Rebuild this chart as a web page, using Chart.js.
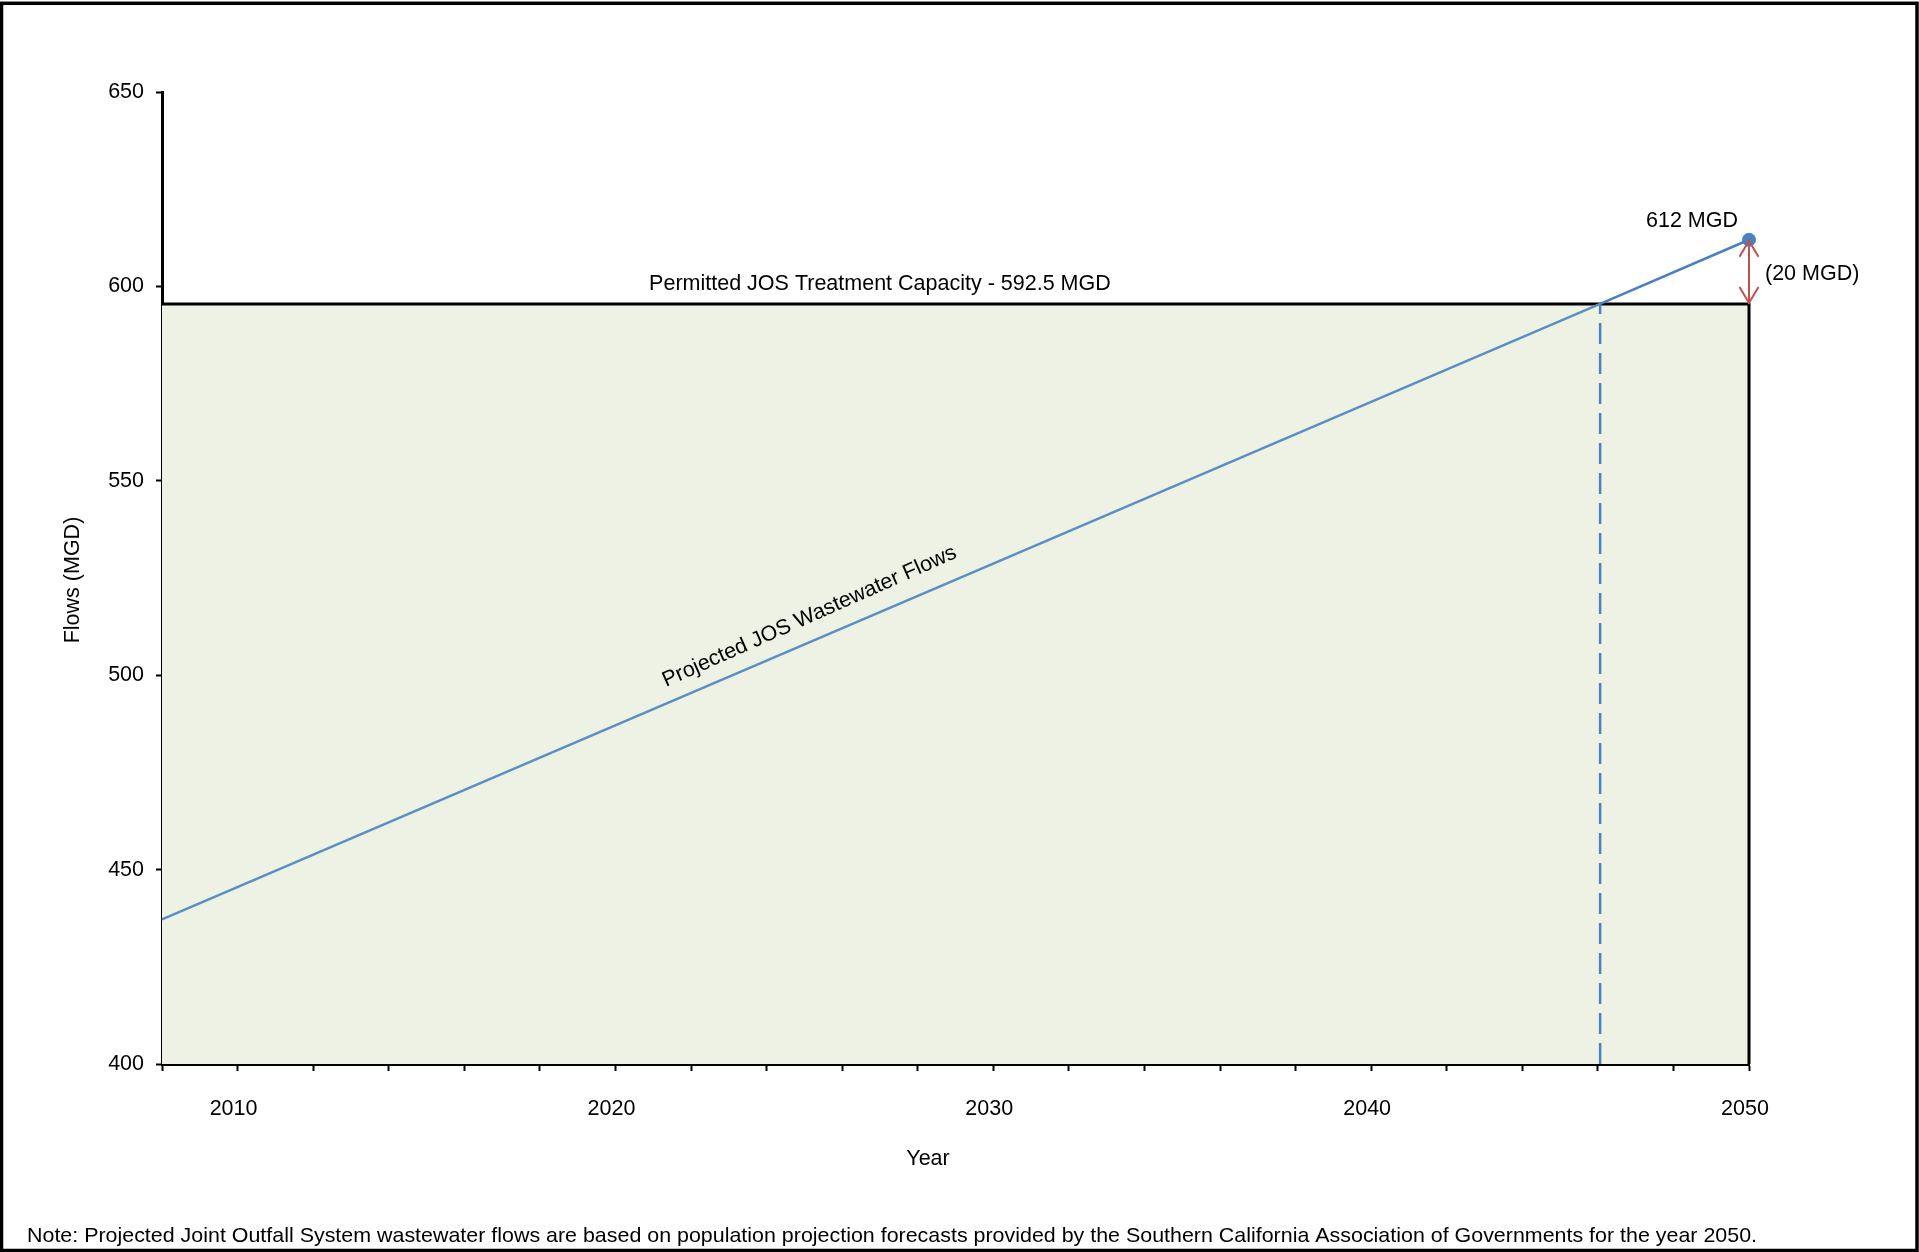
<!DOCTYPE html>
<html>
<head>
<meta charset="utf-8">
<script src="https://cdn.jsdelivr.net/npm/chart.js@4.4.0/dist/chart.umd.min.js"></script>
<style>
	html, body { margin: 0; padding: 0; background: #ffffff; }
	.chart-wrapper { width: 1919px; height: 1252px; }
</style>
</head>
<body>
<div class="chart-wrapper">
	<canvas id="flowsChart" width="1919" height="1252"></canvas>
</div>
<script>
// Projected wastewater flows (MGD)
var flowYears = [ 2008, 2046.06, 2050 ];
var flowValues = [ 437.2, 595.5, 612 ];

// Permitted capacity block (top edge + right edge)
var capacityYears = [ 2008, 2050, 2050 ];
var capacityValues = [ 595.5, 595.5, 400 ];

// year where flows pass the capacity
var crossingYears = [ 2046.06, 2046.06 ];
var crossingValues = [ 400, 595.5 ];

// gap between 2050 flow and capacity
var gapYears = [ 2050, 2050 ];
var gapValues = [ 612, 595.5 ];

var yearLabels = [ 2010, 2020, 2030, 2040, 2050 ];

var capacityText = "Permitted JOS Treatment Capacity - 592.5 MGD";
var lineText = "Projected JOS Wastewater Flows";
var peakText = "612 MGD";
var gapText = "(20 MGD)";
var noteText = "Note: Projected Joint Outfall System wastewater flows are based on population projection forecasts provided by the Southern California Association of Governments for the year 2050.";

var fontFamily = "'Liberation Sans', Arial, sans-serif";
var fontSize = 21.5;
var lineBlue = "#5b8ec2";
var topBlue = "#4a7fc1";
var arrowRed = "#c0504d";

Chart.defaults.font.family = fontFamily;
Chart.defaults.font.size = fontSize;
Chart.defaults.color = "#000000";

function toPoints( xs, ys ) {
	var out = [];
	for ( var i = 0; i < xs.length; i++ ) {
		out.push( { x: xs[i], y: ys[i] } );
	}
	return out;
}

// texts, arrow heads and frame
var annotations = {
	id: "annotations",
	afterDraw: function( chart ) {
		var ctx = chart.ctx;
		var xs = chart.scales.x;
		var ys = chart.scales.y;
		ctx.save();
		ctx.fillStyle = "#000000";
		ctx.font = fontSize + "px " + fontFamily;

		// capacity label
		ctx.textAlign = "center";
		ctx.textBaseline = "middle";
		ctx.fillText( capacityText, xs.getPixelForValue( 2027 ), ys.getPixelForValue( capacityValues[0] ) - 20 );

		// peak labels
		var px = xs.getPixelForValue( gapYears[0] );
		var pTop = ys.getPixelForValue( gapValues[0] );
		var pBot = ys.getPixelForValue( gapValues[1] );
		ctx.fillText( peakText, px - 57, pTop - 19 );
		ctx.textAlign = "left";
		ctx.fillText( gapText, px + 16, ( pTop + pBot ) / 2 + 2 );

		// rotated series label
		var lx = xs.getPixelForValue( 2025.2 );
		var ly = ys.getPixelForValue( flowValues[0] + ( 2025.2 - flowYears[0] ) * ( flowValues[2] - flowValues[0] ) / ( flowYears[2] - flowYears[0] ) );
		ctx.save();
		ctx.translate( lx, ly - 19 );
		ctx.rotate( -24 * Math.PI / 180 );
		ctx.textAlign = "center";
		ctx.textBaseline = "alphabetic";
		ctx.fillText( lineText, 0, 0 );
		ctx.restore();

		// arrow heads
		ctx.strokeStyle = arrowRed;
		ctx.lineWidth = 2;
		ctx.beginPath();
		ctx.moveTo( px - 9.5, pTop + 17 );
		ctx.lineTo( px, pTop + 1 );
		ctx.lineTo( px + 9.5, pTop + 17 );
		ctx.moveTo( px - 9.5, pBot - 17 );
		ctx.lineTo( px, pBot - 1 );
		ctx.lineTo( px + 9.5, pBot - 17 );
		ctx.stroke();

		// axis titles
		ctx.textAlign = "center";
		ctx.textBaseline = "middle";
		ctx.fillText( "Year", 928, 1159 );
		ctx.save();
		ctx.translate( 73, 580 );
		ctx.rotate( -Math.PI / 2 );
		ctx.fillText( "Flows (MGD)", 0, 0 );
		ctx.restore();

		// note, squeezed to the reference width
		ctx.textAlign = "left";
		ctx.textBaseline = "alphabetic";
		ctx.font = "21px " + fontFamily;
		var w = ctx.measureText( noteText ).width;
		ctx.save();
		ctx.translate( 27, 1242 );
		ctx.scale( 1730 / w, 1 );
		ctx.fillText( noteText, 0, 0 );
		ctx.restore();

		// outer frame
		ctx.strokeStyle = "#000000";
		ctx.lineWidth = 3.5;
		ctx.strokeRect( 1.5, 3.3, 1915.5, 1247.2 );
		ctx.restore();
	}
};

var flowsChartCtx = document.getElementById( "flowsChart" ).getContext( "2d" );

var flowsChart = new Chart( flowsChartCtx, {
	type: "scatter",
	data: {
		datasets: [
			{
				data: toPoints( gapYears.slice( 0, 1 ), gapValues.slice( 0, 1 ) ),
				showLine: false,
				pointRadius: 6.5,
				pointBackgroundColor: topBlue,
				pointBorderColor: topBlue,
				clip: false,
				order: 1
			},
			{
				data: toPoints( gapYears, gapValues ),
				showLine: true,
				borderColor: arrowRed,
				borderWidth: 2,
				pointRadius: 0,
				clip: false,
				order: 2
			},
			{
				data: toPoints( flowYears, flowValues ),
				showLine: true,
				borderColor: lineBlue,
				borderWidth: 2.5,
				pointRadius: 0,
				clip: false,
				segment: {
					borderColor: function( c ) {
						return c.p0.parsed.x >= 2046 ? topBlue : lineBlue;
					}
				},
				order: 3
			},
			{
				data: toPoints( crossingYears, crossingValues ),
				showLine: true,
				borderColor: "#4f81bd",
				borderWidth: 2.5,
				borderDash: [ 21, 9 ],
				pointRadius: 0,
				order: 4
			},
			{
				data: toPoints( capacityYears, capacityValues ),
				showLine: true,
				borderColor: "#000000",
				borderWidth: 3,
				backgroundColor: "#eef2e5",
				fill: "start",
				pointRadius: 0,
				clip: false,
				order: 5
			}
		]
	},
	options: {
		responsive: false,
		animation: false,
		devicePixelRatio: 1,
		events: [],
		layout: {
			padding: { top: 92, right: 170, left: 0, bottom: 0 }
		},
		plugins: {
			legend: { display: false },
			tooltip: { enabled: false }
		},
		scales: {
			x: {
				type: "linear",
				min: 2008,
				max: 2050,
				z: 1,
				afterFit: function( scale ) { scale.height = 188; },
				ticks: {
					stepSize: 2,
					autoSkip: false,
					maxRotation: 0,
					padding: 25,
					labelOffset: -4,
					color: "#000000",
					callback: function( value ) {
						return yearLabels.indexOf( value ) >= 0 ? String( value ) : "";
					}
				},
				grid: {
					drawOnChartArea: false,
					tickLength: 7,
					tickColor: "#000000",
					tickWidth: 2
				},
				border: { display: true, color: "#000000", width: 3 }
			},
			y: {
				min: 400,
				max: 650,
				z: 1,
				afterFit: function( scale ) { scale.width = 162; },
				ticks: {
					stepSize: 50,
					padding: 12,
					color: "#000000"
				},
				grid: {
					drawOnChartArea: false,
					tickLength: 6,
					tickColor: "#000000",
					tickWidth: 2
				},
				border: { display: true, color: "#000000", width: 3 }
			}
		}
	},
	plugins: [ annotations ]
} );
</script>
</body>
</html>
